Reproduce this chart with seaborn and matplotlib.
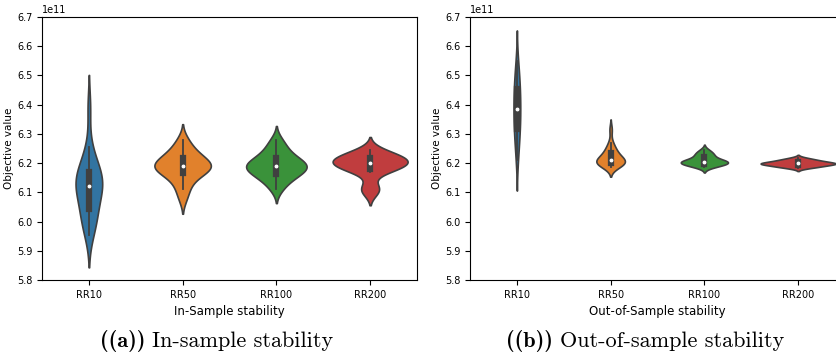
import matplotlib
matplotlib.use('Agg')
import matplotlib.pyplot as plt
from matplotlib.ticker import MultipleLocator
import seaborn as sns
import numpy as np
import pandas as pd

groups = ["RR10", "RR50", "RR100", "RR200"]

# objective values in units of 1e11
in_rr10 = [5.955, 5.98, 6.00, 6.02, 6.04, 6.045, 6.08, 6.10, 6.115, 6.12,
           6.125, 6.13, 6.14, 6.15, 6.17, 6.175, 6.19, 6.21, 6.255, 6.39]
in_rr50 = [6.08, 6.11, 6.13, 6.15, 6.16, 6.17, 6.175, 6.18, 6.185, 6.19,
           6.19, 6.195, 6.20, 6.205, 6.215, 6.225, 6.23, 6.24, 6.26, 6.28]
in_rr100 = [6.11, 6.13, 6.145, 6.155, 6.16, 6.165, 6.175, 6.18, 6.185, 6.19,
            6.19, 6.195, 6.20, 6.205, 6.215, 6.222, 6.23, 6.245, 6.26, 6.28]
in_rr200 = [6.10, 6.11, 6.12, 6.17, 6.175, 6.18, 6.185, 6.19, 6.195, 6.20,
            6.20, 6.205, 6.21, 6.21, 6.215, 6.22, 6.225, 6.23, 6.235, 6.245]

out_rr10 = [6.21, 6.24, 6.27, 6.29, 6.31, 6.32, 6.33, 6.35, 6.37, 6.38,
            6.39, 6.40, 6.42, 6.44, 6.45, 6.46, 6.48, 6.50, 6.52, 6.55]
out_rr50 = [6.188, 6.192, 6.195, 6.197, 6.198, 6.20, 6.202, 6.205, 6.208, 6.21,
            6.212, 6.215, 6.22, 6.225, 6.232, 6.24, 6.245, 6.255, 6.27, 6.315]
out_rr100 = [6.186, 6.19, 6.192, 6.195, 6.197, 6.199, 6.20, 6.202, 6.204, 6.205,
             6.206, 6.208, 6.21, 6.213, 6.218, 6.224, 6.228, 6.232, 6.238, 6.245]
out_rr200 = [6.183, 6.186, 6.188, 6.19, 6.192, 6.194, 6.195, 6.197, 6.198, 6.199,
             6.199, 6.20, 6.201, 6.203, 6.205, 6.207, 6.209, 6.211, 6.214, 6.218]

in_sample = [in_rr10, in_rr50, in_rr100, in_rr200]
out_sample = [out_rr10, out_rr50, out_rr100, out_rr200]

plt.rcParams['font.family'] = ['Liberation Sans Narrow', 'DejaVu Sans']


def to_frame(samples):
    rows = []
    for g, vals in zip(groups, samples):
        for v in vals:
            rows.append((g, v * 1e11))
    return pd.DataFrame(rows, columns=["group", "value"])


def draw(ax, df, xlabel):
    sns.violinplot(data=df, x="group", y="value", hue="group", order=groups,
                   hue_order=groups, palette="tab10", legend=False,
                   common_norm=True, linecolor=".25", linewidth=1.2,
                   inner_kws=dict(box_width=4.5, whis_width=1.3, marker="."),
                   ax=ax)
    ax.set_ylim(5.8e11, 6.7e11)
    ax.yaxis.set_major_locator(MultipleLocator(0.1e11))
    ax.set_xlabel(xlabel, fontsize=8.5)
    ax.set_ylabel("Objective value", fontsize=7.5, labelpad=2)
    ax.tick_params(labelsize=7)
    ax.yaxis.get_offset_text().set_fontsize(7)


fig = plt.figure(figsize=(8.36, 3.54), dpi=100)
ax1 = fig.add_axes([42 / 836, 1 - 280 / 354, 375 / 836, 263 / 354])
ax2 = fig.add_axes([470 / 836, 1 - 280 / 354, 375 / 836, 263 / 354])

draw(ax1, to_frame(in_sample), "In-Sample stability")
draw(ax2, to_frame(out_sample), "Out-of-Sample stability")

# subfigure captions
cy = 1 - 341 / 354
fig.text(145 / 836, cy, "((a))", family="cmb10", fontsize=16, ha="right", va="center")
fig.text(152 / 836, cy, "In-sample stability", family="cmr10", fontsize=16, ha="left", va="center")
fig.text(553 / 836, cy, "((b))", family="cmb10", fontsize=16, ha="right", va="center")
fig.text(560 / 836, cy, "Out-of-sample stability", family="cmr10", fontsize=16, ha="left", va="center")

fig.savefig("out.png", dpi=100)
